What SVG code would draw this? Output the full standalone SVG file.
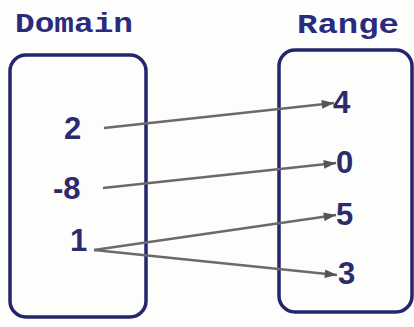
<svg xmlns="http://www.w3.org/2000/svg" width="414" height="327" viewBox="0 0 414 327">
<style>
.title{font-family:"Liberation Mono","DejaVu Sans Mono",monospace;font-weight:bold;font-size:27px;fill:#2b2b7e}
.num{font-family:"Liberation Sans","DejaVu Sans",sans-serif;font-weight:bold;font-size:31px;fill:#2b2b6e}
.box{fill:none;stroke:#25256e;stroke-width:3.5}
.conn{stroke:#6a6a6a;stroke-width:2.5;fill:none;marker-end:url(#ah)}
</style>
<defs>
<marker id="ah" viewBox="0 0 14 10" refX="14" refY="5" markerWidth="6" markerHeight="3.5" orient="auto" markerUnits="strokeWidth">
<path d="M0,0 L14,5 L0,10 z" fill="#555"/>
</marker>
</defs>
<rect width="414" height="327" fill="#fdfdfb"/>
<g id="domain">
<text class="title" x="15" y="32" textLength="118" lengthAdjust="spacingAndGlyphs">Domain</text>
<rect class="box" x="10" y="55" width="136" height="262" rx="16"/>
<text class="num" x="64" y="139">2</text>
<text class="num" x="53" y="199">-8</text>
<text class="num" x="70" y="251">1</text>
</g>
<g id="range">
<text class="title" x="297" y="33" textLength="102" lengthAdjust="spacingAndGlyphs">Range</text>
<rect class="box" x="279" y="50" width="133" height="262" rx="16"/>
<text class="num" x="333" y="113">4</text>
<text class="num" x="336" y="173">0</text>
<text class="num" x="336" y="225">5</text>
<text class="num" x="338" y="284">3</text>
</g>
<g id="connectors">
<line class="conn" x1="104" y1="128" x2="334" y2="103"/>
<line class="conn" x1="103" y1="188" x2="336" y2="163"/>
<line class="conn" x1="94" y1="250" x2="336" y2="215"/>
<line class="conn" x1="94" y1="250" x2="337" y2="275"/>
</g>
</svg>
